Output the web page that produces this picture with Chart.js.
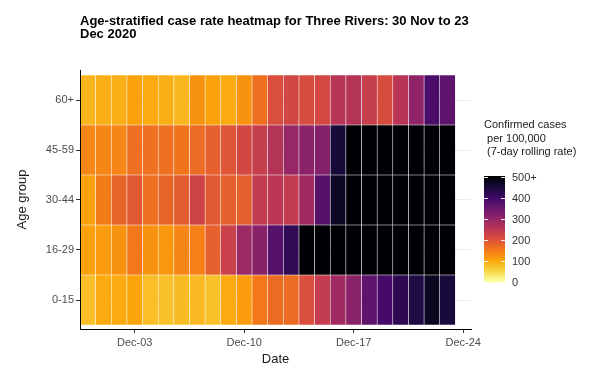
<!DOCTYPE html>
<html>
<head>
<meta charset="utf-8">
<script src="https://cdn.jsdelivr.net/npm/chart.js@4/dist/chart.umd.min.js"></script>
<style>
  html, body { margin: 0; padding: 0; background: #ffffff; }
  #c { display: block; }
</style>
</head>
<body>
<canvas id="c" width="589" height="372"></canvas>
<script>
// ---- data ----
const dateLabels = ['Nov-30','Dec-01','Dec-02','Dec-03','Dec-04','Dec-05','Dec-06','Dec-07','Dec-08','Dec-09',
  'Dec-10','Dec-11','Dec-12','Dec-13','Dec-14','Dec-15','Dec-16','Dec-17','Dec-18','Dec-19','Dec-20','Dec-21',
  'Dec-22','Dec-23','Dec-24'];
const shownDateTicks = ['Dec-03','Dec-10','Dec-17','Dec-24'];
const ageGroups = ['0-15','16-29','30-44','45-59','60+'];

const rate0to15  = [75, 95, 95, 100, 75, 72, 78, 80, 72, 95, 110, 150, 165, 165, 205, 240, 285, 310, 365, 395, 423, 437, 475, 448];
const rate16to29 = [105, 110, 120, 150, 120, 115, 135, 140, 180, 230, 290, 315, 375, 420, 510, 580, 650, 720, 780, 830, 860, 880, 890, 900];
const rate30to44 = [105, 145, 175, 190, 160, 175, 185, 225, 190, 180, 180, 240, 250, 240, 285, 375, 470, 530, 590, 640, 690, 720, 740, 750];
const rate45to59 = [135, 135, 135, 160, 160, 160, 155, 165, 180, 195, 220, 235, 260, 295, 310, 320, 450, 540, 600, 650, 700, 740, 760, 780];
const rate60plus = [85, 90, 90, 103, 95, 90, 82, 120, 105, 95, 120, 160, 205, 220, 210, 215, 255, 260, 235, 210, 255, 305, 390, 362];

const legendTickValues = [0, 100, 200, 300, 400, 500];
const legendTickLabels = ['0', '100', '200', '300', '400', '500+'];
const legendTitle = ['Confirmed cases', ' per 100,000', ' (7-day rolling rate)'];
const chartTitle = ['Age-stratified case rate heatmap for Three Rivers: 30 Nov to 23', 'Dec 2020'];

// ---- colour scale (reversed inferno, capped at 500) ----
const infernoStops = ['#000004','#160b39','#420a68','#6a176e','#932667','#bc3754','#dd513a','#f37819','#fca50a','#f6d746','#fcffa4'];
function hexToRgb(h){ return [parseInt(h.slice(1,3),16), parseInt(h.slice(3,5),16), parseInt(h.slice(5,7),16)]; }
const infernoRgb = infernoStops.map(hexToRgb);
function rateColor(v){
  if (v === null || v === undefined) return 'rgba(0,0,0,0)';
  const t = 1 - Math.max(0, Math.min(v, 500)) / 500;
  const p = t * 10;
  const i = Math.min(9, Math.floor(p));
  const f = p - i;
  const a = infernoRgb[i], b = infernoRgb[i + 1];
  const c = a.map((x, k) => Math.round(x + (b[k] - x) * f));
  return 'rgb(' + c.join(',') + ')';
}

const rowSeries = [rate0to15, rate16to29, rate30to44, rate45to59, rate60plus];
const datasets = rowSeries.map((vals, r) => ({
  label: ageGroups[r],
  data: dateLabels.map((d, i) => (i < vals.length ? 1 : null)),
  backgroundColor: dateLabels.map((d, i) => rateColor(i < vals.length ? vals[i] : null)),
  borderColor: 'rgba(255,255,255,0.25)',
  borderWidth: 0.6,
  borderSkipped: false,
  barPercentage: 1,
  categoryPercentage: 1
}));

// ---- colour bar legend plugin ----
const colorBar = {
  id: 'colorBar',
  afterDraw(chart) {
    const ctx = chart.ctx;
    const x0 = 484, w = 21, yZero = 281.5, yMax = 177;
    const y0 = yMax - 1, y1 = yZero + 1;
    ctx.save();
    const g = ctx.createLinearGradient(0, yZero, 0, yMax);
    for (let k = 0; k <= 10; k++) g.addColorStop(k / 10, rateColor(k * 50));
    ctx.fillStyle = g;
    ctx.fillRect(x0, y0, w, y1 - y0);
    ctx.strokeStyle = 'rgba(255,255,255,0.9)';
    ctx.lineWidth = 1;
    ctx.fillStyle = '#333333';
    ctx.font = '11px "Liberation Sans", Arial, sans-serif';
    ctx.textBaseline = 'middle';
    ctx.textAlign = 'left';
    legendTickValues.forEach((v, i) => {
      const y = Math.round(yZero + (yMax - yZero) * v / 500) + 0.5;
      ctx.beginPath();
      ctx.moveTo(x0, y); ctx.lineTo(x0 + 4, y);
      ctx.moveTo(x0 + w - 4, y); ctx.lineTo(x0 + w, y);
      ctx.stroke();
      ctx.fillText(legendTickLabels[i], 512, y);
    });
    ctx.fillStyle = '#1a1a1a';
    legendTitle.forEach((line, i) => ctx.fillText(line, 484, 125 + i * 13.5));
    ctx.restore();
  }
};

new Chart(document.getElementById('c'), {
  type: 'bar',
  data: { labels: dateLabels, datasets },
  plugins: [colorBar],
  options: {
    responsive: false,
    animation: false,
    devicePixelRatio: 1,
    layout: { padding: { left: 0, right: 118, top: 0, bottom: 0 } },
    plugins: {
      legend: { display: false },
      tooltip: { enabled: false },
      title: {
        display: true,
        text: chartTitle,
        align: 'start',
        fullSize: false,
        color: '#000000',
        font: { family: '"Liberation Sans", Arial, sans-serif', size: 13, weight: 'bold', lineHeight: 1.0 },
        padding: { top: 15, bottom: 29 }
      }
    },
    scales: {
      x: {
        type: 'category',
        stacked: true,
        offset: true,
        afterFit: s => { s.height = 43; },
        grid: { offset: false, drawOnChartArea: false, drawTicks: true, tickLength: 4, tickColor: '#333333', tickWidth: 1 },
        border: { display: true, color: '#000000', width: 1, z: 1 },
        ticks: {
          autoSkip: false, maxRotation: 0, padding: 3, color: '#4d4d4d',
          font: { family: '"Liberation Sans", Arial, sans-serif', size: 11 },
          callback: function(val) { const l = this.getLabelForValue(val); return shownDateTicks.includes(l) ? l : null; }
        },
        title: {
          display: true, text: 'Date', color: '#1a1a1a',
          font: { family: '"Liberation Sans", Arial, sans-serif', size: 13 },
          padding: { top: 0, bottom: 5 }
        }
      },
      y: {
        type: 'linear',
        stacked: true,
        min: -0.08,
        max: 5.1,
        afterFit: s => { s.width = 80; },
        afterBuildTicks: s => { s.ticks = ageGroups.map((g, i) => ({ value: i + 0.5 })); },
        grid: { drawOnChartArea: true, color: '#ebebeb', lineWidth: 1, drawTicks: true, tickLength: 4, tickColor: '#333333' },
        border: { display: true, color: '#000000', width: 1, z: 1 },
        ticks: {
          padding: 2, color: '#4d4d4d',
          font: { family: '"Liberation Sans", Arial, sans-serif', size: 11 },
          callback: v => ageGroups[Math.round(v - 0.5)]
        },
        title: {
          display: true, text: 'Age group', color: '#1a1a1a',
          font: { family: '"Liberation Sans", Arial, sans-serif', size: 13 },
          padding: { top: 15, bottom: 0 }
        }
      }
    }
  }
});
</script>
</body>
</html>
